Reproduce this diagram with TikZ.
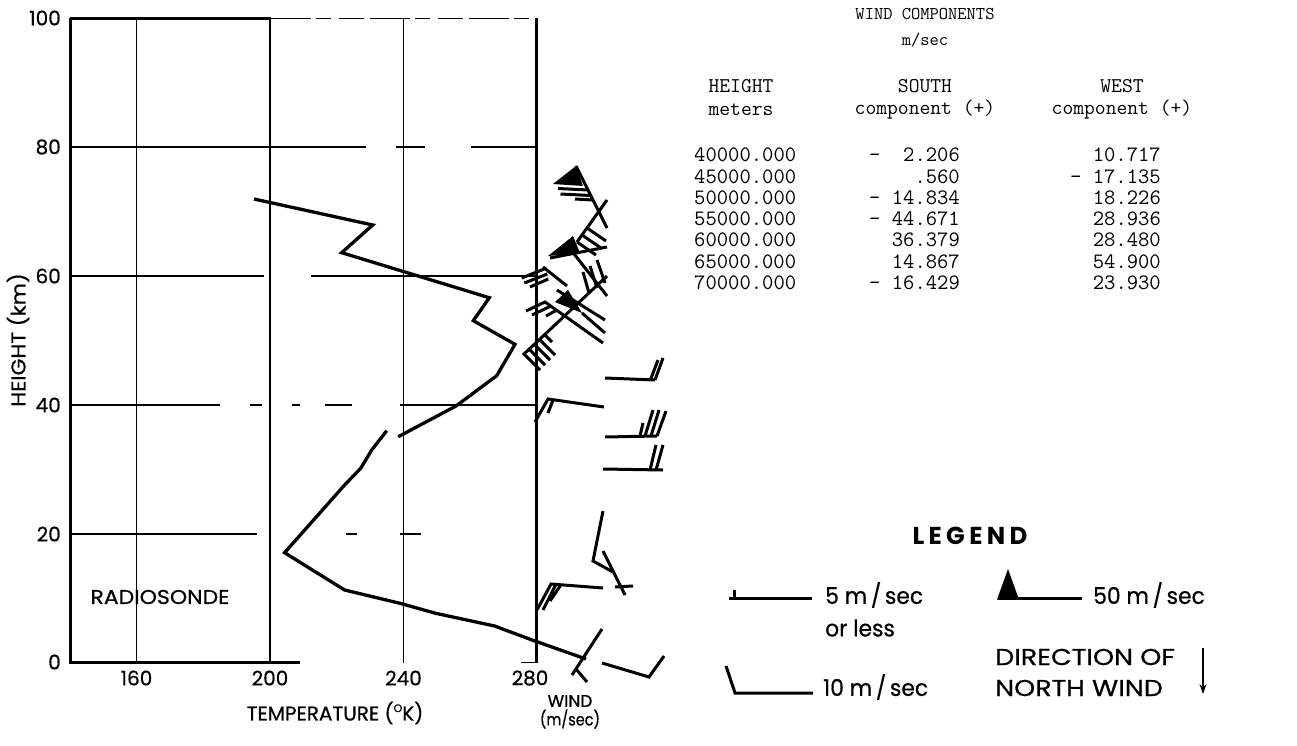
\documentclass[tikz,border=0pt]{standalone}
\usepackage{fontspec}
\usepackage{graphicx}
\newfontfamily\lbl{Poppins}[FakeBold=0.6]
\newfontfamily\lblb{Poppins}
\usetikzlibrary{arrows.meta}
\begin{document}
\begin{tikzpicture}[x=1pt,y=-1pt,
  gridl/.style={line width=1.7pt},
  axisl/.style={line width=3pt},
  curve/.style={line width=3.3pt, line join=miter},
  barb/.style={line width=3pt, line cap=butt},
  lab/.style={font=\lbl\fontsize{20}{20}\selectfont, inner sep=0pt},
  leg/.style={font=\lbl\fontsize{23}{23}\selectfont, inner sep=0pt, anchor=west},
  tw/.style={font=\ttfamily\fontsize{21}{21}\selectfont, inner sep=0pt},
  twd/.style={font=\ttfamily\fontsize{22}{22}\selectfont, inner sep=0pt}]
\useasboundingbox (0,0) rectangle (1297,746);
% frame and grid
\draw[axisl] (70,18.5) -- (70,662.5) -- (300,662.5);
\draw[axisl] (70,18.5) -- (271,18.5);
\draw[gridl, dash pattern=on 40pt off 5pt on 15pt off 8pt on 25pt off 6pt] (271,18.5) -- (536.5,18.5);
\draw[axisl] (536.5,18.5) -- (536.5,662.5);
\draw[gridl] (521,662.5) -- (536.5,662.5);
\foreach \x in {136.5,270,403.5} \draw[gridl] (\x,18.5) -- (\x,662.5);
% horizontal grid
\draw[gridl] (70,147.3) -- (366,147.3) (396,147.3) -- (425,147.3) (471,147.3) -- (536.5,147.3);
\draw[gridl] (70,276) -- (264,276) (311,276) -- (536.5,276);
\draw[gridl] (70,404.9) -- (220,404.9) (250,404.9) -- (262,404.9) (292,404.9) -- (300,404.9) (325,404.9) -- (352,404.9) (400,404.9) -- (536.5,404.9);
\draw[gridl] (70,533.7) -- (257,533.7) (346,533.7) -- (357,533.7) (400,533.7) -- (421,533.7);
% axis labels
\node[lab, anchor=east] (l100) at (61,18) {100};
\node[lab, anchor=east] (l80) at (61,147) {80};
\node[lab, anchor=east] (l60) at (61,276) {60};
\node[lab, anchor=east] (l40) at (61,405) {40};
\node[lab, anchor=east] (l20) at (61,534) {20};
\node[lab, anchor=east] (l0) at (61,662) {0};
\node[lab] (t160) at (136.5,678) {160};
\node[lab] (t200) at (270,678) {200};
\node[lab] (t240) at (403.5,678) {240};
\node[lab] (t280) at (530,678) {280};
\node[lab] (tlab) at (335,713) {TEMPERATURE (\raisebox{0.42em}{\fontsize{11}{11}\selectfont O}K)};
\node[lab, font=\lbl\fontsize{17}{17}\selectfont] (wlab) at (570,701) {WIND};
\node[lab, font=\lbl\fontsize{17}{17}\selectfont] (wunit) at (570,719) {\scalebox{0.85}[1]{(m/sec)}};
\node[lab, rotate=90] (hlab) at (18,340) {\scalebox{1.08}[1]{HEIGHT (km)}};
\node[lab] (radio) at (160,597) {\scalebox{1.1}[1]{RADIOSONDE}};
% temperature curve
\draw[curve] (254,199) -- (372.7,225) -- (341.7,252.7) -- (489.3,297.7) -- (473.3,320.7) -- (515,344.3) -- (496.7,375.7) -- (456,406) -- (398.3,436.7);
\draw[curve] (386.7,430.7) -- (371.7,450) -- (360.7,468.3) -- (344.6,485) -- (284.6,552.7) -- (344.6,590) -- (400,603.3) -- (435.7,613.3) -- (494.6,626) -- (534,640.7) -- (586,659);
% lower wind barbs
\draw[barb] (605,378) -- (655,380) (650,381) -- (658,360) (655,380) -- (663,358);
\draw[barb] (604,407) -- (548,399) -- (535,422) (553,400) -- (548,413);
\draw[barb] (605,437) -- (657,436) (640,436) -- (643,423) (645,436) -- (653,410) (651,436) -- (659,410) (657,436) -- (666,411);
\draw[barb] (603,469) -- (663,470) (650,470) -- (656,445) (656,470) -- (663,445);
\draw[barb] (603,511) -- (593,561) -- (613,572);
\draw[barb] (603,551) -- (625,595) (615,587) -- (633,586);
\draw[barb] (603,588) -- (551,584) -- (537,610) (556,584.3) -- (543,610) (561,584.7) -- (550,601);
\draw[barb] (602,629) -- (572,675) (576,669) -- (587,682);
\draw[barb] (602,663) -- (649,677) -- (664,656);
% upper cluster
\fill (576,166) -- (553,184) -- (583,186) -- cycle;
\draw[barb] (576,166) -- (607,228) (588,190) -- (558,188.5) (590.5,195.5) -- (560.5,194) (593,200) -- (575,199);
\draw[barb] (607,200) -- (577,242) (587,228) -- (606,241) (582,235) -- (601,248) (577,242) -- (596,255);
\fill (548,256) -- (573,236) -- (580,253) -- cycle;
\draw[barb] (550,258) -- (607,247);
\draw[barb] (571,250) -- (607,296);
\draw[barb] (583,272) -- (589,293) (590,266) -- (597,288) (597,260) -- (605,283);
\fill (568,290) -- (555,302) -- (582,313) -- cycle;
\draw[barb] (582,313) -- (605,333);
\draw[barb] (603,343) -- (545,302) -- (526,311) (551,306) -- (532,315) (557,310) -- (546,316);
\draw[barb] (607,276) -- (524,354) -- (540,370) (529,349) -- (545,365) (534,344) -- (550,360) (539,339) -- (555,355) (544,334) -- (552,342);
\draw[barb] (567,286) -- (543,267) (546.7,268) -- (521.7,278) (547.3,274) -- (524.3,283) (548.3,279) -- (530,287);
\draw[barb] (557,290) -- (605,320);
% table
\node[tw, font=\ttfamily\fontsize{18}{18}\selectfont] (th) at (925,14) {WIND COMPONENTS};
\node[tw, font=\ttfamily\fontsize{18}{18}\selectfont] (tu) at (925,40) {m/sec};
\node[tw] (h1) at (741,86) {HEIGHT};
\node[tw] (h2) at (741,110) {meters};
\node[tw] (s1) at (925,86) {SOUTH};
\node[tw] (s2) at (925,110) {component (+)};
\node[tw] (w1) at (1122,86) {WEST};
\node[tw] (w2) at (1122,110) {component (+)};
\foreach \i/\h/\s/\w in {0/40000.000/-~~2.206/10.717, 1/45000.000/.560/-~17.135, 2/50000.000/-~14.834/18.226, 3/55000.000/-~44.671/28.936, 4/60000.000/36.379/28.480, 5/65000.000/14.867/54.900, 6/70000.000/-~16.429/23.930} {
  \node[twd, anchor=west] (rh\i) at (694,155+21.3*\i) {\h};
  \node[twd, anchor=east] (rs\i) at (960,155+21.3*\i) {\s};
  \node[twd, anchor=east] (rw\i) at (1161,155+21.3*\i) {\w};
}
% legend
\node[inner sep=0pt] (legt) at (970,536) {\resizebox{115pt}{!}{\lblb\bfseries\fontsize{19}{19}\selectfont\addfontfeature{LetterSpace=18}LEGEND}};
\draw[barb, line width=3pt] (729,598) -- (812,598) (734,599) -- (734,590);
\node[leg] (l5) at (825,595) {\scalebox{0.95}[1]{5 m\,/\,sec}};
\node[leg] (l5b) at (825,628) {\scalebox{0.95}[1]{or less}};
\draw[barb, line width=3pt] (726,666) -- (735,693) -- (813,693);
\node[leg] (l10) at (823,687) {\scalebox{0.95}[1]{10 m\,/\,sec}};
\fill (997,599.5) -- (1008,569) -- (1019,599.5) -- cycle;
\draw[barb, line width=3pt] (998,598) -- (1082,598);
\node[leg] (l50) at (1093,595) {\scalebox{0.95}[1]{50 m\,/\,sec}};
\node[leg] (ld1) at (995,657) {\scalebox{1.17}[1]{DIRECTION OF}};
\node[leg] (ld2) at (995,688) {\scalebox{1.17}[1]{NORTH WIND}};
\coordinate (na) at (1203,648);
\coordinate (nb) at (1203,694);
\draw[line width=2.4pt, -{Stealth[length=10pt,width=7pt]}] (na) -- (nb);
\end{tikzpicture}
\end{document}
